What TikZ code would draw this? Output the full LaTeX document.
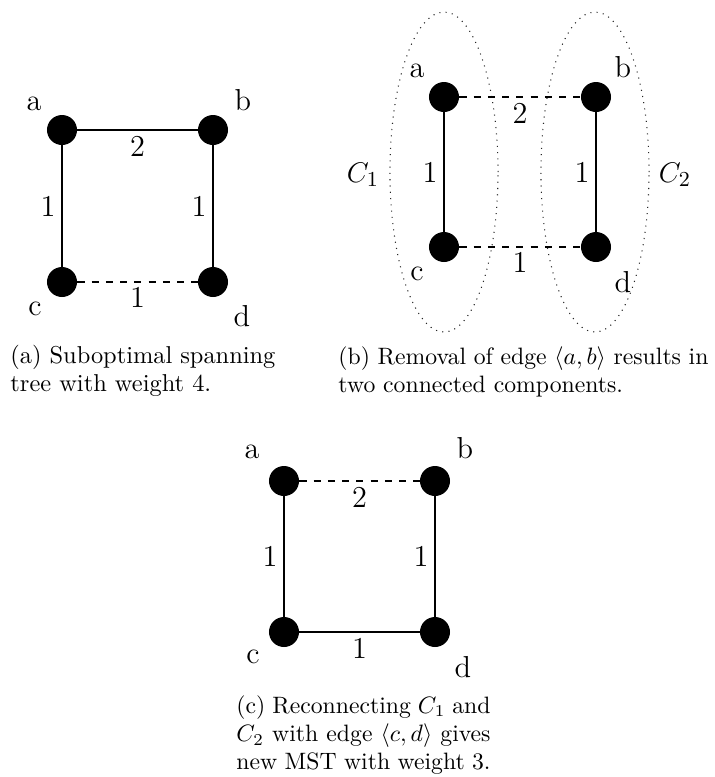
\documentclass[tikz,border=0pt]{standalone}
\begin{document}
\begin{tikzpicture}[x=0.4219pt,y=-0.4219pt,
  vtx/.style={circle,fill=black,draw=none,minimum size=12.66pt,inner sep=0pt},
  lbl/.style={font=\fontsize{12.8}{15}\selectfont,inner sep=0pt},
  sedge/.style={line width=0.85pt},
  dedge/.style={line width=0.85pt,dash pattern=on 3pt off 3pt},
  comp/.style={line width=0.45pt,dash pattern=on 0.45pt off 2.2pt,black!85},
  captxt/.style={font=\fontsize{10}{12}\selectfont,inner sep=0pt,align=justify,anchor=base west}]
\useasboundingbox (0,0) rectangle (714,777);

% ---------- panel (a)
\node[vtx] (a1) at (62,130) {};
\node[vtx] (b1) at (213,130) {};
\node[vtx] (c1) at (62,282) {};
\node[vtx] (d1) at (213,282) {};
\node[lbl,anchor=base] (la1) at ([shift={(-28,-20)}]a1) {a};
\node[lbl,anchor=base] (lb1) at ([shift={(30,-20)}]b1) {b};
\node[lbl,anchor=base] (lc1) at ([shift={(-27,33)}]c1) {c};
\node[lbl,anchor=base] (ld1) at ([shift={(29,44)}]d1) {d};
\draw[sedge] (a1) -- node[lbl,yshift=-6.75pt] (wab1) {2} (b1);
\draw[sedge] (a1) -- node[lbl,xshift=-5.9pt] (wac1) {1} (c1);
\draw[sedge] (b1) -- node[lbl,xshift=-5.9pt] (wbd1) {1} (d1);
\draw[dedge] (c1) -- node[lbl,yshift=-6.3pt] (wcd1) {1} (d1);
\node[captxt,text width=111.8pt,font=\fontsize{10.3}{12}\selectfont] (capa) at (10,363) {(a) Suboptimal spanning\linebreak tree with weight 4.};

% ---------- panel (b)
\draw[comp] (444,172) ellipse [x radius=22.8pt, y radius=67.5pt];
\draw[comp] (595,172) ellipse [x radius=22.8pt, y radius=67.5pt];
\node[vtx] (a2) at (444,97) {};
\node[vtx] (b2) at (596,97) {};
\node[vtx] (c2) at (444,247) {};
\node[vtx] (d2) at (596,247) {};
\node[lbl,anchor=base] (la2) at ([shift={(-27,-20)}]a2) {a};
\node[lbl,anchor=base] (lb2) at ([shift={(27,-20)}]b2) {b};
\node[lbl,anchor=base] (lc2) at ([shift={(-27,33)}]c2) {c};
\node[lbl,anchor=base] (ld2) at ([shift={(27,45)}]d2) {d};
\draw[dedge] (a2) -- node[lbl,yshift=-6.75pt] (wab2) {2} (b2);
\draw[sedge] (a2) -- node[lbl,xshift=-5.9pt] (wac2) {1} (c2);
\draw[sedge] (b2) -- node[lbl,xshift=-5.9pt] (wbd2) {1} (d2);
\draw[dedge] (c2) -- node[lbl,yshift=-6.5pt] (wcd2) {1} (d2);
\node[lbl] (C1) at (363,175) {$C_1$};
\node[lbl] (C2) at (675,175) {$C_2$};
\node[captxt,text width=156.1pt] (capb) at (338,364) {(b) Removal of edge $\langle a,b\rangle$ results in\linebreak two connected components.};

% ---------- panel (c)
\node[vtx] (a3) at (284,481) {};
\node[vtx] (b3) at (435,481) {};
\node[vtx] (c3) at (284,632) {};
\node[vtx] (d3) at (435,632) {};
\node[lbl,anchor=base] (la3) at ([shift={(-32,-23)}]a3) {a};
\node[lbl,anchor=base] (lb3) at ([shift={(30,-23)}]b3) {b};
\node[lbl,anchor=base] (lc3) at ([shift={(-31,31)}]c3) {c};
\node[lbl,anchor=base] (ld3) at ([shift={(28,45)}]d3) {d};
\draw[dedge] (a3) -- node[lbl,yshift=-6.75pt] (wab3) {2} (b3);
\draw[sedge] (a3) -- node[lbl,xshift=-5.9pt] (wac3) {1} (c3);
\draw[sedge] (b3) -- node[lbl,xshift=-5.9pt] (wbd3) {1} (d3);
\draw[sedge] (c3) -- node[lbl,yshift=-6.75pt] (wcd3) {1} (d3);
\node[captxt,text width=107.2pt] (capc) at (236,713) {\parfillskip=0pt (c) Reconnecting $C_1$ and\linebreak $C_2$ with edge $\langle c,d\rangle$ gives\linebreak new MST with weight 3.};
\end{tikzpicture}
\end{document}
